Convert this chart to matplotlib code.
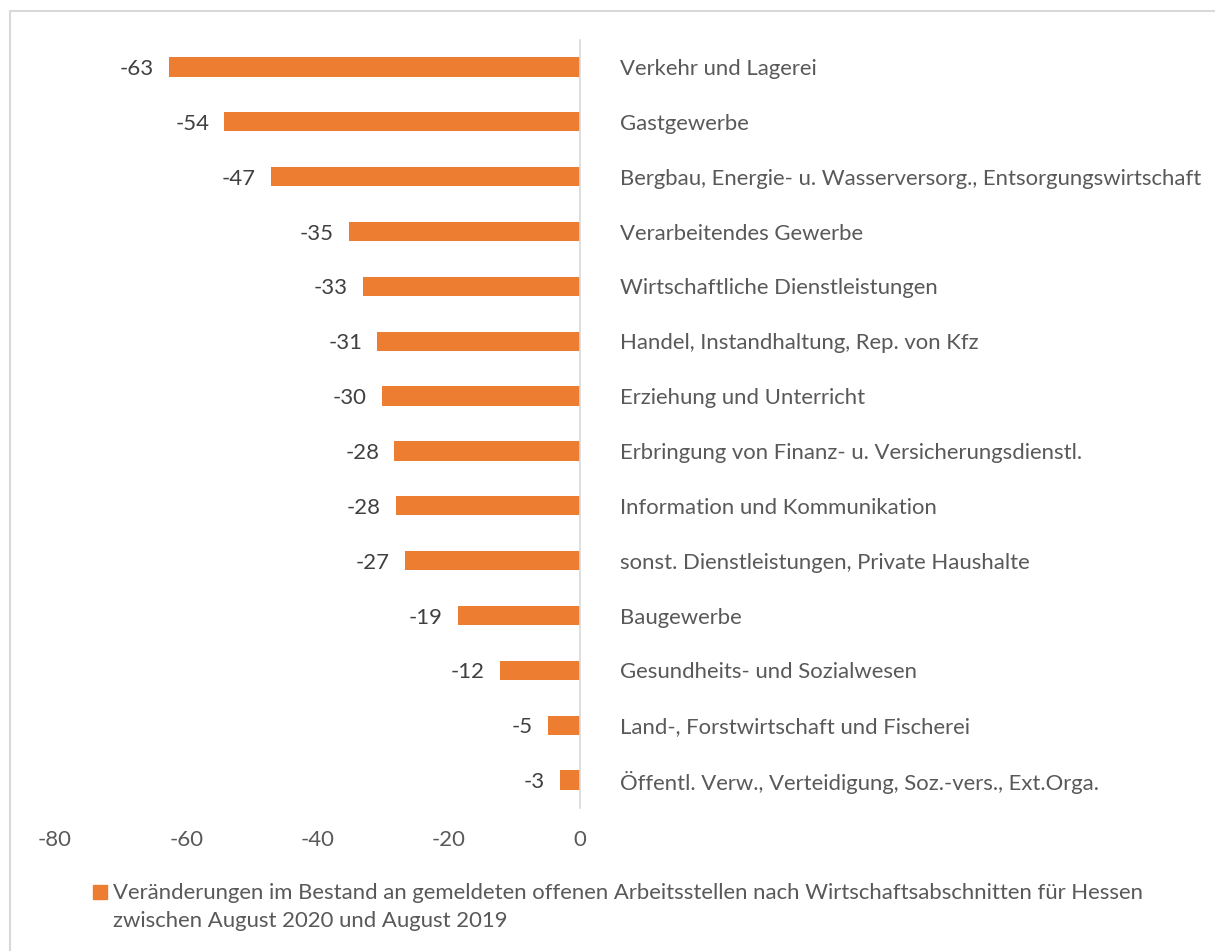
import matplotlib.pyplot as plt
from matplotlib.patches import Rectangle

# ── Data ────────────────────────────────────────────────────────────────────────
categories = [
    "Verkehr und Lagerei",
    "Gastgewerbe",
    "Bergbau, Energie- u. Wasserversorg., Entsorgungswirtschaft",
    "Verarbeitendes Gewerbe",
    "Wirtschaftliche Dienstleistungen",
    "Handel, Instandhaltung, Rep. von Kfz",
    "Erziehung und Unterricht",
    "Erbringung von Finanz- u. Versicherungsdienstl.",
    "Information und Kommunikation",
    "sonst. Dienstleistungen, Private Haushalte",
    "Baugewerbe",
    "Gesundheits- und Sozialwesen",
    "Land-, Forstwirtschaft und Fischerei",
    "Öffentl. Verw., Verteidigung, Soz.-vers., Ext.Orga.",
]
values = [-62.7, -54.2, -47.1, -35.2, -33.1, -30.9, -30.2,
          -28.3, -28.1, -26.7, -18.6, -12.2, -4.9, -3.1]
x_ticks = [-80, -60, -40, -20, 0]
legend_lines = [
    "Veränderungen im Bestand an gemeldeten offenen Arbeitsstellen "
    "nach Wirtschaftsabschnitten für Hessen",
    "zwischen August 2020 und August 2019",
]

# ── Style ───────────────────────────────────────────────────────────────────────
ORANGE = "#ed7d31"
TEXT = "#595959"
LABEL = "#404040"
LINE = "#d9d9d9"
FS = 15.9
plt.rcParams["font.family"] = ["Lato", "DejaVu Sans"]

W, H = 1215, 951
fig = plt.figure(figsize=(W / 100, H / 100), dpi=100, facecolor="white")
ax = fig.add_axes([55 / W, 1 - 807.5 / H, 525 / W, 768 / H])

ypos = list(range(len(categories)))
bars = ax.barh(ypos, values, height=0.35, color=ORANGE, zorder=2)
ax.set_ylim(len(categories) - 0.5, -0.5)
ax.set_xlim(-80, 0)

for bar, v in zip(bars, values):
    ax.text(v - 2.3, bar.get_y() + bar.get_height() / 2, f"{v:.0f}",
            ha="right", va="center_baseline", fontsize=FS, color=LABEL)

# category labels on the right of the zero line
ax.yaxis.tick_right()
ax.set_yticks(ypos)
ax.set_yticklabels(categories, fontsize=FS, color=TEXT)
ax.tick_params(axis="y", length=0, pad=29)

ax.set_xticks(x_ticks)
ax.set_xticklabels([str(t) for t in x_ticks], fontsize=FS, color=TEXT)
ax.tick_params(axis="x", length=0, pad=16)

for side in ["top", "left", "bottom"]:
    ax.spines[side].set_visible(False)
ax.spines["right"].set_color(LINE)
ax.spines["right"].set_linewidth(1.2)

# legend (marker + wrapped text)
fig.patches.append(Rectangle((93 / W, 1 - 899 / H), 14 / W, 14 / H,
                             transform=fig.transFigure, color=ORANGE))
for i, line in enumerate(legend_lines):
    fig.text(113 / W, 1 - (899 + 28 * i) / H, line, fontsize=FS, color=TEXT,
             ha="left", va="baseline")

# chart-area border
fig.patches.append(Rectangle((10 / W, -0.1), 1.2, 1 - 11 / H + 0.1,
                             transform=fig.transFigure, fill=False,
                             edgecolor=LINE, linewidth=1.5))

fig.savefig("out.png", dpi=100, facecolor="white")
